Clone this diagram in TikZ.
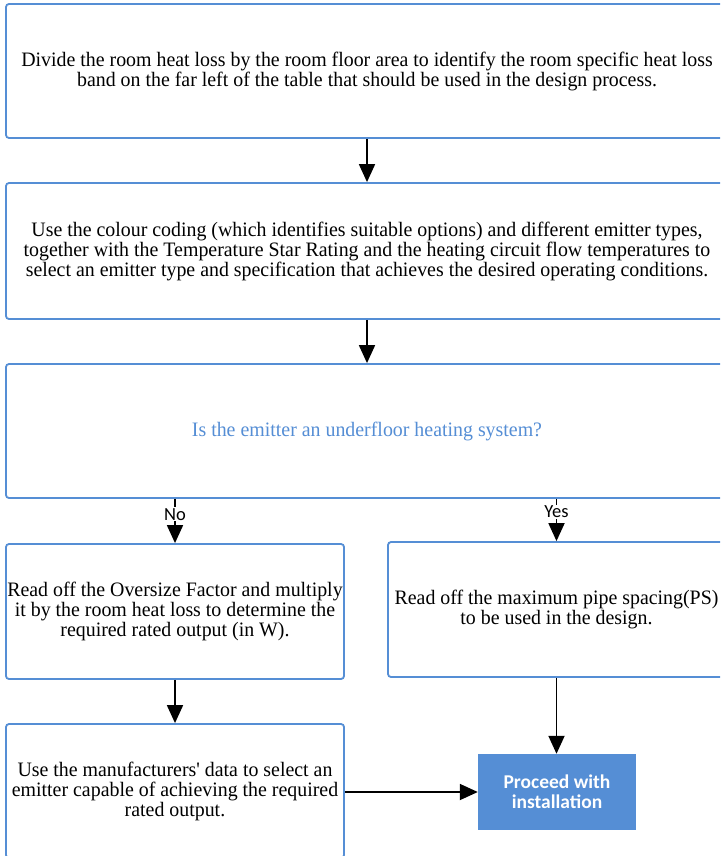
\documentclass[tikz,border=0pt]{standalone}
\usepackage{fontspec}
\setmainfont{Liberation Serif}[FakeStretch=0.97, Ligatures=TeXOff]
\newfontfamily\labelfont{Carlito}
\usetikzlibrary{arrows.meta}
\definecolor{flowblue}{RGB}{85,142,213}

\begin{document}
\begin{tikzpicture}[x=1pt, y=-1pt,
  stepbox/.style={draw=flowblue, line width=1.8pt, rounded corners=3pt,
                  align=center, inner sep=0pt,
                  font=\fontsize{20.5}{20}\selectfont},
  flowarrow/.style={-{Triangle[length=18pt, width=16pt]}, line width=1.8pt},
  branch/.style={fill=white, inner sep=1pt, font=\labelfont\fontsize{18.5}{20}\selectfont}]
\clip (0, 0) rectangle (720, 856);
\fill[white] (0, 0) rectangle (720, 856);
% the main column
\node[stepbox, minimum width=722pt, minimum height=134pt] (divide)   at (367,   71)
  {Divide the room heat loss by the room floor area to identify the room specific heat loss\\
   band on the far left of the table that should be used in the design process.};
\node[stepbox, minimum width=722pt, minimum height=136pt] (emitter)  at (367,  251)
  {Use the colour coding (which identifies suitable options) and different emitter types,\\
   together with the Temperature Star Rating and the heating circuit flow temperatures to\\
   select an emitter type and specification that achieves the desired operating conditions.};
\node[stepbox, minimum width=722pt, minimum height=134pt,
      text=flowblue]                                             (question) at (367,  431)
  {Is the emitter an underfloor heating system?};
% the two branches
\node[stepbox, minimum width=338pt, minimum height=135pt] (oversize) at (175,  611.5)
  {Read off the Oversize Factor and multiply\\
   it by the room heat loss to determine the\\
   required rated output (in W).};
\node[stepbox, minimum width=337pt, minimum height=135pt] (pipes)    at (556.5, 609.5)
  {Read off the maximum pipe spacing(PS)\\
   to be used in the design.};
\node[stepbox, minimum width=338pt, minimum height=134pt] (select)   at (175,  791)
  {Use the manufacturers' data to select an\\
   emitter capable of achieving the required\\
   rated output.};
\node[fill=flowblue, minimum width=158pt, minimum height=76pt, inner sep=0pt,
      align=center, text=white,
      font=\labelfont\bfseries\fontsize{19.5}{20}\selectfont]       (proceed)  at (557,  792)
  {Proceed with\\installation};
% connectors
\draw[flowarrow] (divide)   -- (emitter);
\draw[flowarrow] (emitter)  -- (question);
\draw[flowarrow] (question.south -| oversize) -- node[branch, pos=0.35] {No}  (oversize.north);
\draw[flowarrow] (question.south -| pipes)    -- node[branch, pos=0.30] {Yes} (pipes.north);
\draw[flowarrow] (oversize) -- (select);
\draw[flowarrow] (pipes.south) -- (pipes.south |- proceed.north);
\draw[flowarrow] (select.east |- proceed) -- (proceed.west);
\end{tikzpicture}
\end{document}
